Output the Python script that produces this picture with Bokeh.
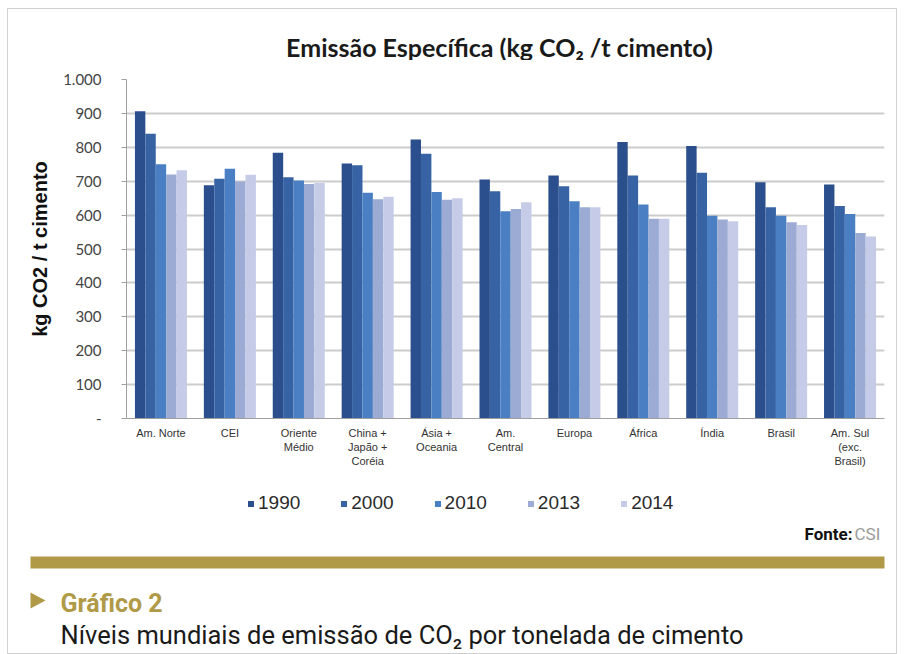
from bokeh.plotting import figure
from bokeh.models import (FactorRange, Range1d, Legend, LegendItem, FixedTicker,
                          ColumnDataSource)
from bokeh.transform import dodge
from bokeh.layouts import column
from bokeh.embed import file_html
from bokeh.resources import INLINE
from bokeh.core.properties import value

# ---------------- data ----------------
categories = ["Am. Norte", "CEI", "Oriente\nMédio", "China +\nJapão +\nCoréia",
              "Ásia +\nOceania", "Am.\nCentral", "Europa", "África", "Índia",
              "Brasil", "Am. Sul\n(exc.\nBrasil)"]
years = ["1990", "2000", "2010", "2013", "2014"]
v1990 = [906, 688, 784, 752, 823, 705, 717, 816, 804, 697, 690]
v2000 = [840, 707, 712, 747, 781, 670, 685, 717, 725, 623, 627]
v2010 = [750, 737, 702, 666, 668, 611, 641, 631, 598, 598, 603]
v2013 = [720, 699, 692, 647, 645, 618, 623, 589, 587, 579, 547]
v2014 = [732, 719, 695, 654, 650, 638, 623, 589, 582, 571, 537]
y_ticks = [0, 100, 200, 300, 400, 500, 600, 700, 800, 900, 1000]
y_tick_labels = ["-", "100", "200", "300", "400", "500", "600", "700", "800", "900", "1.000"]

colors = ["#2b4f8c", "#3763a4", "#4a80c3", "#9babd4", "#c6cce8"]

source = ColumnDataSource(data=dict(cat=categories, y1990=v1990, y2000=v2000,
                                    y2010=v2010, y2013=v2013, y2014=v2014))

W = 888

# ---------------- header (chart title) ----------------
HH = 51
h = figure(width=W, height=HH, x_range=Range1d(0, W), y_range=Range1d(HH, 0),
           output_backend="svg", toolbar_location=None, min_border=0,
           x_axis_location=None, y_axis_location=None)
h.frame_align = False
h.grid.visible = False
h.outline_line_color = None
h.text(x=[494], y=[37], text=["Emissão Específica  (kg CO₂ /t cimento)"],
       text_font=value("Lato"), text_font_style="bold", text_font_size="25px",
       text_color="#1a1a1a", text_align="center", text_baseline="alphabetic")

# ---------------- chart ----------------
TOP_H = 422
p = figure(width=W, height=TOP_H, x_range=FactorRange(*categories),
           y_range=Range1d(0, 1000), output_backend="svg", toolbar_location=None,
           min_border_left=118, min_border_right=12, min_border_top=19,
           min_border_bottom=64)
p.frame_align = False
p.outline_line_color = None

bw = 0.151
for i, yr in enumerate(years):
    p.vbar(x=dodge("cat", (i - 2) * bw, range=p.x_range), top="y" + yr,
           width=bw, source=source, fill_color=colors[i], line_color=None)

# y axis
p.yaxis.ticker = FixedTicker(ticks=y_ticks)
p.yaxis.major_label_overrides = {t: l for t, l in zip(y_ticks, y_tick_labels)}
p.yaxis.axis_label = "kg CO2 / t cimento"
p.yaxis.axis_label_text_font = "Liberation Sans"
p.yaxis.axis_label_text_font_style = "bold"
p.yaxis.axis_label_text_font_size = "20px"
p.yaxis.axis_label_text_color = "#111111"
p.yaxis.axis_label_standoff = 9
p.yaxis.major_label_text_font = "Lato"
p.yaxis.major_label_text_font_size = "15px"
p.yaxis.major_label_text_color = "#444444"
p.yaxis.major_label_standoff = 20
p.yaxis.major_tick_out = 5
p.yaxis.major_tick_in = 0
p.yaxis.minor_tick_line_color = None
p.yaxis.axis_line_color = "#a0a0a0"
p.yaxis.major_tick_line_color = "#a0a0a0"

# x axis
p.xaxis.major_tick_line_color = None
p.xaxis.major_tick_out = 0
p.xaxis.major_tick_in = 0
p.xaxis.axis_line_color = "#a0a0a0"
p.xaxis.major_label_text_font = "Liberation Sans"
p.xaxis.major_label_text_font_size = "11px"
p.xaxis.major_label_text_color = "#333333"
p.xaxis.major_label_standoff = 8

p.xgrid.grid_line_color = None
p.ygrid.grid_line_color = "#cccccc"
p.ygrid.grid_line_width = 2

# ---------------- footer (legend + caption) ----------------
FH = 171
f = figure(width=W, height=FH, x_range=Range1d(0, W), y_range=Range1d(FH, 0),
           output_backend="svg", toolbar_location=None, min_border=0,
           x_axis_location=None, y_axis_location=None)
f.frame_align = False
f.grid.visible = False
f.outline_line_color = None

# legend swatches (hidden renderers in the bar colours, drawn only in the legend)
swatches = [f.scatter(x=[0], y=[0], marker="square", fill_color=c, line_color=None,
                      visible=False)
            for c in colors]
legend = Legend(items=[LegendItem(label=yr, renderers=[r]) for yr, r in zip(years, swatches)],
                orientation="horizontal", location=(235, FH - 32))
legend.label_text_font = "Liberation Sans"
legend.label_text_font_size = "19px"
legend.label_text_color = "#2a2a2a"
legend.glyph_width = 15
legend.glyph_height = 15
legend.label_standoff = 0
legend.spacing = 36
legend.padding = 0
legend.margin = 0
legend.border_line_color = None
legend.background_fill_alpha = 0
legend.inactive_fill_alpha = 0
f.add_layout(legend, "center")

gold = "#b09a48"
f.quad(left=[22], right=[876], top=[74], bottom=[86], fill_color=gold, line_color=None)
f.patch(x=[22, 37, 22], y=[110, 118, 126], fill_color=gold, line_color=None)
f.text(x=[844], y=[51], text=["Fonte:"], text_font=value("Roboto"),
       text_font_style="bold", text_font_size="17px", text_color="#111111",
       text_align="right", text_baseline="alphabetic")
f.text(x=[846], y=[51], text=["CSI"], text_font=value("Roboto"),
       text_font_size="17px", text_color="#9a9a9a",
       text_align="left", text_baseline="alphabetic")
f.text(x=[52], y=[121], text=["Gráfico 2"], text_font=value("Roboto"),
       text_font_style="bold", text_font_size="25px", text_color=gold,
       text_align="left", text_baseline="alphabetic")
f.text(x=[52], y=[152], text=["Níveis mundiais de emissão de CO₂ por tonelada de cimento"],
       text_font=value("Roboto"), text_font_size="25.5px", text_color="#1a1a1a",
       text_align="left", text_baseline="alphabetic")

layout = column(h, p, f, styles={"margin-left": "7px", "margin-top": "8px",
                                 "border": "1px solid #d0d0d0"})
open("out.html", "w").write(file_html(layout, INLINE))
